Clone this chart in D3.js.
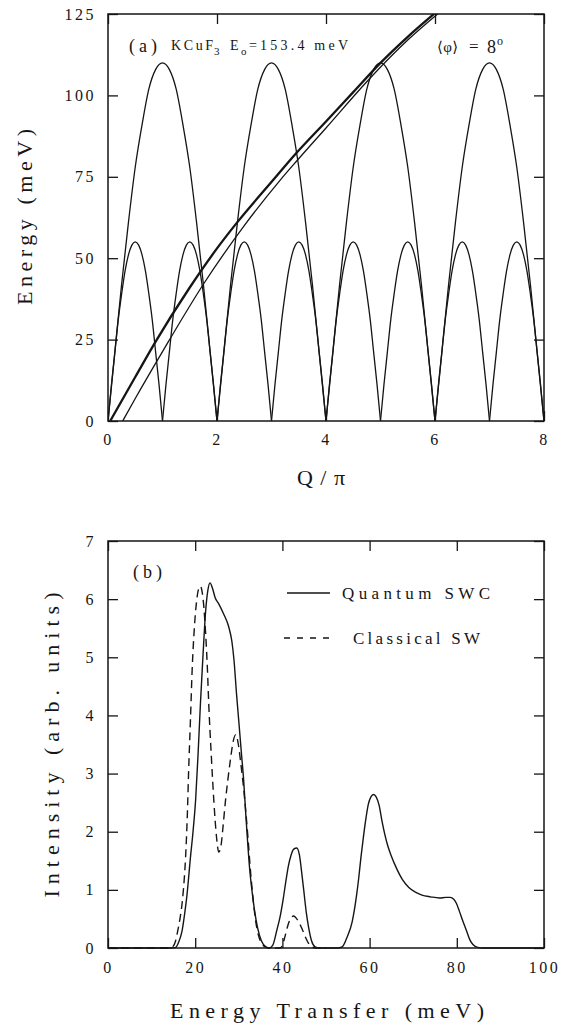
<!DOCTYPE html>
<html>
<head>
<meta charset="utf-8">
<script src="https://cdn.jsdelivr.net/npm/d3@7"></script>
<style>
	body { margin: 0; background: #fff; }
	svg { display: block; }
	text { font-family: "Liberation Serif", "DejaVu Serif", serif; fill: #151515; }
	.axis text { font-size: 16px; letter-spacing: 2.5px; }
	.axis line { stroke: #151515; stroke-width: 1.3; }
	.frame { fill: none; stroke: #151515; stroke-width: 1.5; }
	.curve { fill: none; stroke: #151515; stroke-linejoin: round; }
</style>
</head>
<body>
<div class="container"></div>
<script>
const WIDTH = 564
	, HEIGHT = 1026
	, LEFT = 108
	, RIGHT = 544
	, TICK = 10
	, TOP_A = 14
	, BOTTOM_A = 421
	, TOP_B = 541
	, BOTTOM_B = 948;

// panel (a): dispersion
var qTicks = [0, 2, 4, 6, 8];
var energyTicks = [0, 25, 50, 75, 100, 125];

var bigArchStarts = [0, 2, 4, 6];
var bigArchOffsets = [0, 0.125, 0.25, 0.375, 0.5, 0.625, 0.75, 0.875, 1, 1.125, 1.25, 1.375, 1.5, 1.625, 1.75, 1.875, 2];
var bigArchEnergy = [0, 21, 42, 61, 78, 91, 102, 108, 110, 108, 102, 91, 78, 61, 42, 21, 0];

var smallArchStarts = [0, 1, 2, 3, 4, 5, 6, 7];
var smallArchOffsets = [0, 0.0625, 0.125, 0.1875, 0.25, 0.3125, 0.375, 0.4375, 0.5, 0.5625, 0.625, 0.6875, 0.75, 0.8125, 0.875, 0.9375, 1];
var smallArchEnergy = [0, 11, 21, 31, 39, 46, 51, 54, 55, 54, 51, 46, 39, 31, 21, 11, 0];

var thickLineQ = [0.04, 0.5, 0.86, 1.5, 2.0, 2.37, 3.03, 3.44, 4.0, 4.5, 5.0, 5.5, 6.05];
var thickLineE = [0, 13.5, 24, 41, 53, 61, 74, 82, 92, 101, 110, 118, 126];
var thinLineQ = [0.27, 0.5, 1.0, 1.75, 2.5, 3.16, 3.47, 4.0, 4.82, 5.5, 6.12];
var thinLineE = [0, 6.9, 21.3, 42, 60, 74, 80, 90, 105.5, 117, 126];

// panel (b): intensity
var transferTicks = [0, 20, 40, 60, 80, 100];
var intensityTicks = [0, 1, 2, 3, 4, 5, 6, 7];

var quantumE = [0, 14.5, 15.5, 16.2, 17.0, 17.6, 18.1, 18.9, 19.5, 20.1, 20.7, 21.2, 21.8, 22.4, 22.9, 23.4, 24.0, 24.6, 25.4, 26.5, 27.7, 28.4, 28.9, 29.5, 30.0, 30.6, 31.1, 31.6, 32.0, 32.5, 33.0, 33.6, 34.3, 35.2, 36.2, 37.0,
	37.8, 38.7, 39.5, 40.2, 40.8, 41.4, 42.0, 42.6, 43.3, 43.9, 44.5, 44.9, 45.5, 46.0, 46.7, 47.5, 48.5,
	52.5, 53.7, 54.8, 56.0, 57.0, 57.5, 58.0, 58.6, 59.2, 59.7, 60.3, 60.9, 61.5, 62.2, 62.8, 63.5, 64.2, 65.0, 66.0, 67.5, 69.0, 70.5, 72.0, 74.0, 76.0, 77.5, 78.5, 79.3, 79.9, 80.6, 81.3, 82.2, 83.0, 83.7, 84.8, 86, 100];
var quantumI = [0, 0, 0.01, 0.1, 0.3, 0.6, 0.9, 1.55, 2.0, 2.55, 3.4, 4.2, 5.05, 5.8, 6.15, 6.28, 6.18, 6.02, 5.92, 5.75, 5.52, 5.28, 4.95, 4.35, 3.9, 3.35, 2.9, 2.3, 1.85, 1.35, 1.0, 0.65, 0.35, 0.12, 0.02, 0,
	0.05, 0.3, 0.55, 0.85, 1.15, 1.42, 1.6, 1.7, 1.72, 1.6, 1.25, 0.99, 0.6, 0.36, 0.12, 0.02, 0,
	0, 0.02, 0.18, 0.45, 0.9, 1.2, 1.55, 1.92, 2.25, 2.47, 2.6, 2.64, 2.6, 2.45, 2.2, 1.95, 1.75, 1.58, 1.4, 1.18, 1.04, 0.96, 0.91, 0.88, 0.86, 0.87, 0.87, 0.84, 0.77, 0.63, 0.48, 0.30, 0.14, 0.06, 0.01, 0, 0];

var classicalE = [0, 14.0, 14.8, 15.5, 15.9, 16.5, 17.0, 17.5, 17.8, 18.2, 18.5, 18.9, 19.3, 19.8, 20.3, 20.8, 21.2, 21.6, 22.0, 22.4, 22.8, 23.1, 23.7, 24.3, 24.9, 25.4, 25.9, 26.4, 26.9, 27.5, 28.1, 28.7, 29.3, 29.9, 30.5, 31.1, 31.6, 32.1, 32.6, 33.2, 33.8, 34.5, 35.3, 36.3, 37,
	39.5, 40.0, 40.6, 41.3, 42.0, 42.6, 43.2, 43.8, 44.5, 45.2, 46.0, 46.8, 47.5, 50];
var classicalI = [0, 0, 0.02, 0.12, 0.26, 0.5, 0.77, 1.2, 1.57, 2.3, 3.06, 3.9, 4.78, 5.5, 5.95, 6.18, 6.22, 6.12, 5.85, 5.4, 4.8, 4.21, 3.3, 2.5, 1.9, 1.65, 1.75, 2.1, 2.5, 2.9, 3.25, 3.55, 3.67, 3.5, 3.15, 2.75, 2.35, 1.9, 1.4, 0.9, 0.5, 0.22, 0.07, 0.01, 0,
	0, 0.05, 0.2, 0.4, 0.52, 0.55, 0.51, 0.44, 0.33, 0.2, 0.08, 0.02, 0, 0];

var translate = function (x, y) {
	return "translate(" + x + "," + y + ")";
};

var zip = function (xs, ys) {
	return xs.map(function (x, i) { return [x, ys[i]]; });
};

var svg = d3.select('.container').append('svg')
	.attr('width', WIDTH)
	.attr('height', HEIGHT);

var drawAxes = function (xScale, yScale, xTicks, yTicks, xPad, yPad) {
	var top = yScale.range()[1], bottom = yScale.range()[0];
	var none = function () { return ""; };
	var fmt = d3.format('d');
	svg.append('g').classed('axis', true)
		.attr('transform', translate(0, bottom))
		.call(d3.axisBottom(xScale).tickValues(xTicks).tickSize(-TICK).tickPadding(xPad).tickFormat(fmt));
	svg.append('g').classed('axis', true)
		.attr('transform', translate(0, top))
		.call(d3.axisTop(xScale).tickValues(xTicks).tickSize(-TICK).tickFormat(none));
	svg.append('g').classed('axis', true)
		.attr('transform', translate(LEFT, 0))
		.call(d3.axisLeft(yScale).tickValues(yTicks).tickSize(-TICK).tickPadding(yPad).tickFormat(fmt));
	svg.append('g').classed('axis', true)
		.attr('transform', translate(RIGHT, 0))
		.call(d3.axisRight(yScale).tickValues(yTicks).tickSize(-TICK).tickFormat(none));
	svg.selectAll('.axis .domain').remove();
	svg.selectAll('.axis text').attr('fill', '#151515');
	svg.append('rect').classed('frame', true)
		.attr('x', LEFT).attr('y', top)
		.attr('width', RIGHT - LEFT).attr('height', bottom - top);
};

// ---------- panel (a)
var xA = d3.scaleLinear().domain([0, 8]).range([LEFT, RIGHT]);
var yA = d3.scaleLinear().domain([0, 125]).range([BOTTOM_A, TOP_A]);

svg.append('clipPath').attr('id', 'clipA').append('rect')
	.attr('x', LEFT).attr('y', TOP_A).attr('width', RIGHT - LEFT).attr('height', BOTTOM_A - TOP_A);

var lineA = d3.line()
	.x(function (d) { return xA(d[0]); })
	.y(function (d) { return yA(d[1]); })
	.curve(d3.curveMonotoneX);

var gA = svg.append('g').attr('clip-path', 'url(#clipA)');

bigArchStarts.forEach(function (q0) {
	gA.append('path').classed('curve', true)
		.attr('stroke-width', 1.3)
		.attr('d', lineA(zip(bigArchOffsets.map(function (o) { return q0 + o; }), bigArchEnergy)));
});
smallArchStarts.forEach(function (q0) {
	gA.append('path').classed('curve', true)
		.attr('stroke-width', 1.3)
		.attr('d', lineA(zip(smallArchOffsets.map(function (o) { return q0 + o; }), smallArchEnergy)));
});
gA.append('path').classed('curve', true)
	.attr('stroke-width', 2.3)
	.attr('d', lineA(zip(thickLineQ, thickLineE)));
gA.append('path').classed('curve', true)
	.attr('stroke-width', 1.3)
	.attr('d', lineA(zip(thinLineQ, thinLineE)));

drawAxes(xA, yA, qTicks, energyTicks, 13, 12);

svg.append('text')
	.attr('x', 321).attr('y', 485)
	.attr('text-anchor', 'middle')
	.attr('font-size', 22)
	.attr('textLength', 48).attr('lengthAdjust', 'spacing')
	.text('Q/π');

svg.append('text')
	.attr('transform', translate(32, 217) + ' rotate(-90)')
	.attr('text-anchor', 'middle')
	.attr('font-size', 22)
	.attr('textLength', 176).attr('lengthAdjust', 'spacing')
	.text('Energy (meV)');

svg.append('text').attr('x', 129).attr('y', 52).attr('font-size', 18)
	.attr('textLength', 28).attr('lengthAdjust', 'spacing').text('(a)');
svg.append('text').attr('x', 171).attr('y', 50).attr('font-size', 14)
	.attr('textLength', 42).attr('lengthAdjust', 'spacing').text('KCuF');
svg.append('text').attr('x', 214).attr('y', 55).attr('font-size', 11).text('3');
svg.append('text').attr('x', 230).attr('y', 50).attr('font-size', 14).text('E');
svg.append('text').attr('x', 241).attr('y', 55).attr('font-size', 11).text('o');
svg.append('text').attr('x', 249).attr('y', 50).attr('font-size', 14)
	.attr('textLength', 99).attr('lengthAdjust', 'spacing').text('=153.4 meV');
svg.append('text').attr('x', 437).attr('y', 52).attr('font-size', 15)
	.attr('textLength', 21).attr('lengthAdjust', 'spacing').text('⟨φ⟩');
svg.append('text').attr('x', 469).attr('y', 52).attr('font-size', 17).text('=');
svg.append('text').attr('x', 487).attr('y', 53).attr('font-size', 18).text('8');
svg.append('text').attr('x', 497).attr('y', 45).attr('font-size', 12).text('o');

// ---------- panel (b)
var xB = d3.scaleLinear().domain([0, 100]).range([LEFT, RIGHT]);
var yB = d3.scaleLinear().domain([0, 7]).range([BOTTOM_B, TOP_B]);

var lineB = d3.line()
	.x(function (d) { return xB(d[0]); })
	.y(function (d) { return yB(d[1]); })
	.curve(d3.curveMonotoneX);

svg.append('path').classed('curve', true)
	.attr('stroke-width', 1.4)
	.attr('d', lineB(zip(quantumE, quantumI)));
svg.append('path').classed('curve', true)
	.attr('stroke-width', 1.4)
	.attr('stroke-dasharray', '8,5')
	.attr('d', lineB(zip(classicalE, classicalI)));

drawAxes(xB, yB, transferTicks, intensityTicks, 14, 12);

svg.append('text')
	.attr('x', 327).attr('y', 1018)
	.attr('text-anchor', 'middle')
	.attr('font-size', 22)
	.attr('textLength', 314).attr('lengthAdjust', 'spacing')
	.text('Energy Transfer (meV)');

svg.append('text')
	.attr('transform', translate(59, 745) + ' rotate(-90)')
	.attr('text-anchor', 'middle')
	.attr('font-size', 22)
	.attr('textLength', 305).attr('lengthAdjust', 'spacing')
	.text('Intensity (arb. units)');

svg.append('text').attr('x', 133).attr('y', 578).attr('font-size', 18)
	.attr('textLength', 29).attr('lengthAdjust', 'spacing').text('(b)');

// legend
svg.append('line').attr('x1', 287).attr('x2', 330).attr('y1', 593).attr('y2', 593)
	.attr('stroke', '#151515').attr('stroke-width', 1.4);
svg.append('text').attr('x', 342).attr('y', 599).attr('font-size', 17)
	.attr('textLength', 148).attr('lengthAdjust', 'spacing').text('Quantum SWC');
svg.append('line').attr('x1', 284).attr('x2', 330).attr('y1', 638).attr('y2', 638)
	.attr('stroke', '#151515').attr('stroke-width', 1.4).attr('stroke-dasharray', '6,7');
svg.append('text').attr('x', 353).attr('y', 644).attr('font-size', 17)
	.attr('textLength', 127).attr('lengthAdjust', 'spacing').text('Classical SW');
</script>
</body>
</html>
